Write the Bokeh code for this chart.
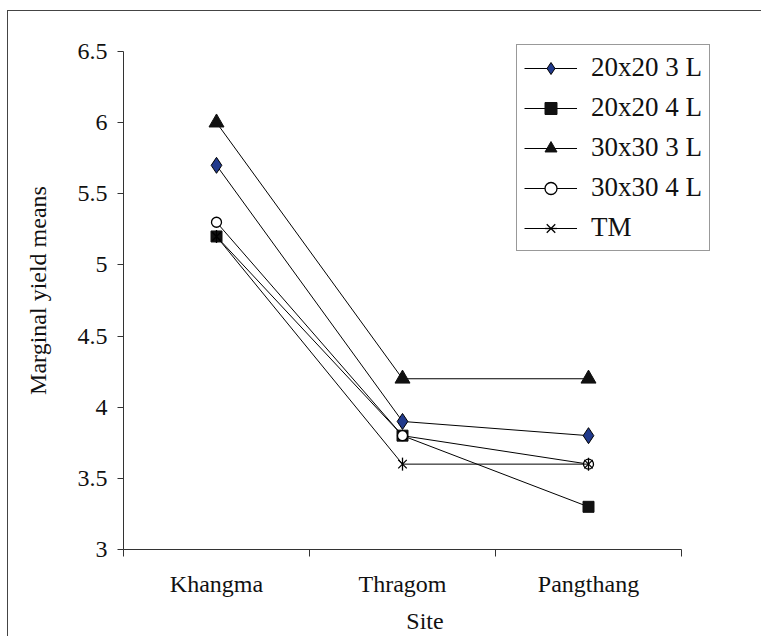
import math
from bokeh.plotting import figure
from bokeh.models import Range1d, FixedTicker, Legend, LegendItem
from bokeh.embed import file_html
from bokeh.resources import INLINE

# ---- data ----
sites = ["Khangma", "Thragom", "Pangthang"]
series_names = ["20x20 3 L", "20x20 4 L", "30x30 3 L", "30x30 4 L", "TM"]
s_20x20_3L = [5.7, 3.9, 3.8]
s_20x20_4L = [5.2, 3.8, 3.3]
s_30x30_3L = [6.0, 4.2, 4.2]
s_30x30_4L = [5.3, 3.8, 3.6]
s_TM = [5.2, 3.6, 3.6]
y_ticks = [3, 3.5, 4, 4.5, 5, 5.5, 6, 6.5]
y_tick_labels = ["3", "3.5", "4", "4.5", "5", "5.5", "6", "6.5"]
y_title = "Marginal yield means"
x_title = "Site"

FONT = "Liberation Serif"

# category centres on a numeric axis (category i occupies [i, i+1])
n = len(sites)
xc = [i + 0.5 for i in range(n)]
y_min, y_max = y_ticks[0], y_ticks[-1]

# frame is a little larger than the axes so that the legend fits inside it
FRAME_L, FRAME_R_AXIS, FRAME_R = 122, 680, 725
FRAME_B, FRAME_T_AXIS, FRAME_T = 548, 50, 30
x_end = n * (FRAME_R - FRAME_L) / (FRAME_R_AXIS - FRAME_L)
y_end = y_min + (y_max - y_min) * (FRAME_B - FRAME_T) / (FRAME_B - FRAME_T_AXIS)

p = figure(width=754, height=626, output_backend="svg", toolbar_location=None,
           x_range=Range1d(0, x_end), y_range=Range1d(y_min, y_end),
           min_border_left=FRAME_L - 7, min_border_top=FRAME_T - 10,
           min_border_right=754 - (FRAME_R - 7), min_border_bottom=626 - (FRAME_B - 10))
p.styles = {"margin-left": "7px", "margin-top": "10px",
            "border-left": "1px solid #444", "border-top": "1px solid #444"}
p.outline_line_color = None
p.xgrid.visible = False
p.ygrid.visible = False
p.background_fill_color = "white"
p.border_fill_color = "white"

# x axis: labels at centres, ticks at boundaries (minor ticks)
p.xaxis.bounds = (0, n)
p.xaxis.ticker = FixedTicker(ticks=xc, minor_ticks=list(range(n + 1)))
p.xaxis.major_label_overrides = {v: s for v, s in zip(xc, sites)}
p.xaxis.major_tick_out = 0
p.xaxis.major_tick_in = 0
p.xaxis.minor_tick_out = 7
p.xaxis.minor_tick_in = 0
p.xaxis.minor_tick_line_color = "#333"
p.xaxis.axis_line_color = "#333"
p.xaxis.major_label_standoff = 14
p.xaxis.major_label_text_font = FONT
p.xaxis.major_label_text_font_size = "24px"
p.xaxis.major_label_text_color = "#111"
p.xaxis.axis_label = x_title
p.xaxis.axis_label_text_font = FONT
p.xaxis.axis_label_text_font_size = "24px"
p.xaxis.axis_label_text_font_style = "normal"
p.xaxis.axis_label_text_color = "#111"
p.xaxis.axis_label_standoff = 8

# y axis
p.yaxis.bounds = (y_min, y_max)
p.yaxis.ticker = FixedTicker(ticks=y_ticks, minor_ticks=[])
p.yaxis.major_label_overrides = {(int(t) if float(t).is_integer() else t): l
                                 for t, l in zip(y_ticks, y_tick_labels)}
p.yaxis.major_tick_out = 6
p.yaxis.major_tick_in = 0
p.yaxis.major_tick_line_color = "#333"
p.yaxis.axis_line_color = "#333"
p.yaxis.major_label_standoff = 10
p.yaxis.major_label_text_font = FONT
p.yaxis.major_label_text_font_size = "24px"
p.yaxis.major_label_text_color = "#111"
p.yaxis.axis_label = y_title
p.yaxis.axis_label_text_font = FONT
p.yaxis.axis_label_text_font_size = "24px"
p.yaxis.axis_label_text_font_style = "normal"
p.yaxis.axis_label_text_color = "#111"
p.yaxis.axis_label_standoff = 24

items = []

def add_series(name, ys, markers):
    r_line = p.line(xc, ys, line_color="black", line_width=1)
    rs = [r_line]
    for m in markers:
        rs.append(p.scatter(xc, ys, **m))
    items.append(LegendItem(label=name, renderers=rs))

add_series(series_names[0], s_20x20_3L,
           [dict(marker="diamond", size=16,
                 fill_color="#213a8c", line_color="black", line_width=1)])
add_series(series_names[1], s_20x20_4L,
           [dict(marker="square", size=11, fill_color="#111", line_color="#111")])
add_series(series_names[2], s_30x30_3L,
           [dict(marker="triangle", size=15, fill_color="#111", line_color="#111")])
add_series(series_names[3], s_30x30_4L,
           [dict(marker="circle", size=10, fill_color="white", line_color="black",
                 line_width=1.3)])
add_series(series_names[4], s_TM,
           [dict(marker="x", size=12, line_color="black", line_width=1.3),
            dict(marker="dash", size=13, angle=math.pi / 2, line_color="black",
                 line_width=1.3)])

legend = Legend(items=items, location=(393, 298),
                glyph_width=53, glyph_height=30, label_height=22, spacing=9,
                padding=7, margin=0, label_standoff=14,
                label_text_font=FONT, label_text_font_size="27px",
                label_text_color="#111",
                border_line_color="#333", border_line_width=1,
                background_fill_color="white", background_fill_alpha=1)
p.add_layout(legend, "center")

open("out.html", "w").write(file_html(p, INLINE))
